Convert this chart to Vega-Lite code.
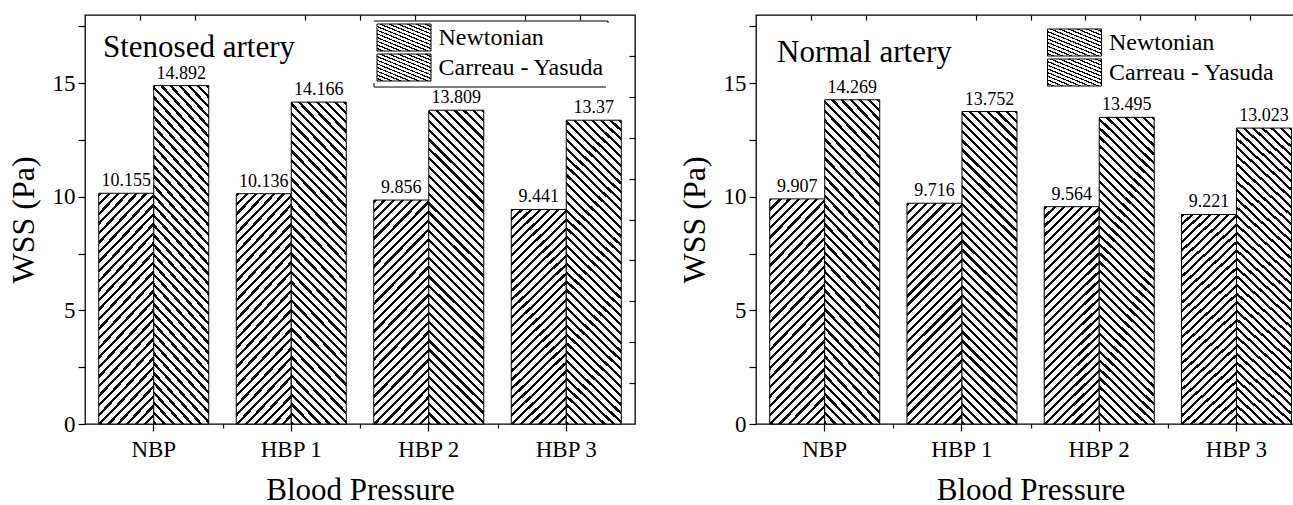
{
  "$schema": "https://vega.github.io/schema/vega-lite/v6.json",
  "padding": {"left": 6, "top": 13, "right": -12, "bottom": 0},
  "background": "white",
  "params": [
    {"name": "hs", "value": [
      {"offset":0,"color":"#000"},{"offset":0.007,"color":"#000"},{"offset":0.007,"color":"#fff"},{"offset":0.02,"color":"#fff"},
      {"offset":0.02,"color":"#000"},{"offset":0.027,"color":"#000"},{"offset":0.027,"color":"#fff"},{"offset":0.04,"color":"#fff"},
      {"offset":0.04,"color":"#000"},{"offset":0.047,"color":"#000"},{"offset":0.047,"color":"#fff"},{"offset":0.06,"color":"#fff"},
      {"offset":0.06,"color":"#000"},{"offset":0.067,"color":"#000"},{"offset":0.067,"color":"#fff"},{"offset":0.08,"color":"#fff"},
      {"offset":0.08,"color":"#000"},{"offset":0.087,"color":"#000"},{"offset":0.087,"color":"#fff"},{"offset":0.1,"color":"#fff"},
      {"offset":0.1,"color":"#000"},{"offset":0.107,"color":"#000"},{"offset":0.107,"color":"#fff"},{"offset":0.12,"color":"#fff"},
      {"offset":0.12,"color":"#000"},{"offset":0.127,"color":"#000"},{"offset":0.127,"color":"#fff"},{"offset":0.14,"color":"#fff"},
      {"offset":0.14,"color":"#000"},{"offset":0.147,"color":"#000"},{"offset":0.147,"color":"#fff"},{"offset":0.16,"color":"#fff"},
      {"offset":0.16,"color":"#000"},{"offset":0.167,"color":"#000"},{"offset":0.167,"color":"#fff"},{"offset":0.18,"color":"#fff"},
      {"offset":0.18,"color":"#000"},{"offset":0.187,"color":"#000"},{"offset":0.187,"color":"#fff"},{"offset":0.2,"color":"#fff"},
      {"offset":0.2,"color":"#000"},{"offset":0.207,"color":"#000"},{"offset":0.207,"color":"#fff"},{"offset":0.22,"color":"#fff"},
      {"offset":0.22,"color":"#000"},{"offset":0.227,"color":"#000"},{"offset":0.227,"color":"#fff"},{"offset":0.24,"color":"#fff"},
      {"offset":0.24,"color":"#000"},{"offset":0.247,"color":"#000"},{"offset":0.247,"color":"#fff"},{"offset":0.26,"color":"#fff"},
      {"offset":0.26,"color":"#000"},{"offset":0.267,"color":"#000"},{"offset":0.267,"color":"#fff"},{"offset":0.28,"color":"#fff"},
      {"offset":0.28,"color":"#000"},{"offset":0.287,"color":"#000"},{"offset":0.287,"color":"#fff"},{"offset":0.3,"color":"#fff"},
      {"offset":0.3,"color":"#000"},{"offset":0.307,"color":"#000"},{"offset":0.307,"color":"#fff"},{"offset":0.32,"color":"#fff"},
      {"offset":0.32,"color":"#000"},{"offset":0.327,"color":"#000"},{"offset":0.327,"color":"#fff"},{"offset":0.34,"color":"#fff"},
      {"offset":0.34,"color":"#000"},{"offset":0.347,"color":"#000"},{"offset":0.347,"color":"#fff"},{"offset":0.36,"color":"#fff"},
      {"offset":0.36,"color":"#000"},{"offset":0.367,"color":"#000"},{"offset":0.367,"color":"#fff"},{"offset":0.38,"color":"#fff"},
      {"offset":0.38,"color":"#000"},{"offset":0.387,"color":"#000"},{"offset":0.387,"color":"#fff"},{"offset":0.4,"color":"#fff"},
      {"offset":0.4,"color":"#000"},{"offset":0.407,"color":"#000"},{"offset":0.407,"color":"#fff"},{"offset":0.42,"color":"#fff"},
      {"offset":0.42,"color":"#000"},{"offset":0.427,"color":"#000"},{"offset":0.427,"color":"#fff"},{"offset":0.44,"color":"#fff"},
      {"offset":0.44,"color":"#000"},{"offset":0.447,"color":"#000"},{"offset":0.447,"color":"#fff"},{"offset":0.46,"color":"#fff"},
      {"offset":0.46,"color":"#000"},{"offset":0.467,"color":"#000"},{"offset":0.467,"color":"#fff"},{"offset":0.48,"color":"#fff"},
      {"offset":0.48,"color":"#000"},{"offset":0.487,"color":"#000"},{"offset":0.487,"color":"#fff"},{"offset":0.5,"color":"#fff"},
      {"offset":0.5,"color":"#000"},{"offset":0.507,"color":"#000"},{"offset":0.507,"color":"#fff"},{"offset":0.52,"color":"#fff"},
      {"offset":0.52,"color":"#000"},{"offset":0.527,"color":"#000"},{"offset":0.527,"color":"#fff"},{"offset":0.54,"color":"#fff"},
      {"offset":0.54,"color":"#000"},{"offset":0.547,"color":"#000"},{"offset":0.547,"color":"#fff"},{"offset":0.56,"color":"#fff"},
      {"offset":0.56,"color":"#000"},{"offset":0.567,"color":"#000"},{"offset":0.567,"color":"#fff"},{"offset":0.58,"color":"#fff"},
      {"offset":0.58,"color":"#000"},{"offset":0.587,"color":"#000"},{"offset":0.587,"color":"#fff"},{"offset":0.6,"color":"#fff"},
      {"offset":0.6,"color":"#000"},{"offset":0.607,"color":"#000"},{"offset":0.607,"color":"#fff"},{"offset":0.62,"color":"#fff"},
      {"offset":0.62,"color":"#000"},{"offset":0.627,"color":"#000"},{"offset":0.627,"color":"#fff"},{"offset":0.64,"color":"#fff"},
      {"offset":0.64,"color":"#000"},{"offset":0.647,"color":"#000"},{"offset":0.647,"color":"#fff"},{"offset":0.66,"color":"#fff"},
      {"offset":0.66,"color":"#000"},{"offset":0.667,"color":"#000"},{"offset":0.667,"color":"#fff"},{"offset":0.68,"color":"#fff"},
      {"offset":0.68,"color":"#000"},{"offset":0.687,"color":"#000"},{"offset":0.687,"color":"#fff"},{"offset":0.7,"color":"#fff"},
      {"offset":0.7,"color":"#000"},{"offset":0.707,"color":"#000"},{"offset":0.707,"color":"#fff"},{"offset":0.72,"color":"#fff"},
      {"offset":0.72,"color":"#000"},{"offset":0.727,"color":"#000"},{"offset":0.727,"color":"#fff"},{"offset":0.74,"color":"#fff"},
      {"offset":0.74,"color":"#000"},{"offset":0.747,"color":"#000"},{"offset":0.747,"color":"#fff"},{"offset":0.76,"color":"#fff"},
      {"offset":0.76,"color":"#000"},{"offset":0.767,"color":"#000"},{"offset":0.767,"color":"#fff"},{"offset":0.78,"color":"#fff"},
      {"offset":0.78,"color":"#000"},{"offset":0.787,"color":"#000"},{"offset":0.787,"color":"#fff"},{"offset":0.8,"color":"#fff"},
      {"offset":0.8,"color":"#000"},{"offset":0.807,"color":"#000"},{"offset":0.807,"color":"#fff"},{"offset":0.82,"color":"#fff"},
      {"offset":0.82,"color":"#000"},{"offset":0.827,"color":"#000"},{"offset":0.827,"color":"#fff"},{"offset":0.84,"color":"#fff"},
      {"offset":0.84,"color":"#000"},{"offset":0.847,"color":"#000"},{"offset":0.847,"color":"#fff"},{"offset":0.86,"color":"#fff"},
      {"offset":0.86,"color":"#000"},{"offset":0.867,"color":"#000"},{"offset":0.867,"color":"#fff"},{"offset":0.88,"color":"#fff"},
      {"offset":0.88,"color":"#000"},{"offset":0.887,"color":"#000"},{"offset":0.887,"color":"#fff"},{"offset":0.9,"color":"#fff"},
      {"offset":0.9,"color":"#000"},{"offset":0.907,"color":"#000"},{"offset":0.907,"color":"#fff"},{"offset":0.92,"color":"#fff"},
      {"offset":0.92,"color":"#000"},{"offset":0.927,"color":"#000"},{"offset":0.927,"color":"#fff"},{"offset":0.94,"color":"#fff"},
      {"offset":0.94,"color":"#000"},{"offset":0.947,"color":"#000"},{"offset":0.947,"color":"#fff"},{"offset":0.96,"color":"#fff"},
      {"offset":0.96,"color":"#000"},{"offset":0.967,"color":"#000"},{"offset":0.967,"color":"#fff"},{"offset":0.98,"color":"#fff"},
      {"offset":0.98,"color":"#000"},{"offset":0.987,"color":"#000"},{"offset":0.987,"color":"#fff"},{"offset":1,"color":"#fff"}
    ]}
  ],
  "data": {"values": [
    {"artery": "Stenosed", "pressure": "NBP", "model": "Newtonian", "wss": 10.155},
    {"artery": "Stenosed", "pressure": "NBP", "model": "Carreau - Yasuda", "wss": 14.892},
    {"artery": "Stenosed", "pressure": "HBP 1", "model": "Newtonian", "wss": 10.136},
    {"artery": "Stenosed", "pressure": "HBP 1", "model": "Carreau - Yasuda", "wss": 14.166},
    {"artery": "Stenosed", "pressure": "HBP 2", "model": "Newtonian", "wss": 9.856},
    {"artery": "Stenosed", "pressure": "HBP 2", "model": "Carreau - Yasuda", "wss": 13.809},
    {"artery": "Stenosed", "pressure": "HBP 3", "model": "Newtonian", "wss": 9.441},
    {"artery": "Stenosed", "pressure": "HBP 3", "model": "Carreau - Yasuda", "wss": 13.37},
    {"artery": "Normal", "pressure": "NBP", "model": "Newtonian", "wss": 9.907},
    {"artery": "Normal", "pressure": "NBP", "model": "Carreau - Yasuda", "wss": 14.269},
    {"artery": "Normal", "pressure": "HBP 1", "model": "Newtonian", "wss": 9.716},
    {"artery": "Normal", "pressure": "HBP 1", "model": "Carreau - Yasuda", "wss": 13.752},
    {"artery": "Normal", "pressure": "HBP 2", "model": "Newtonian", "wss": 9.564},
    {"artery": "Normal", "pressure": "HBP 2", "model": "Carreau - Yasuda", "wss": 13.495},
    {"artery": "Normal", "pressure": "HBP 3", "model": "Newtonian", "wss": 9.221},
    {"artery": "Normal", "pressure": "HBP 3", "model": "Carreau - Yasuda", "wss": 13.023}
  ]},
  "spacing": 40,
  "hconcat": [
    {
      "width": 550,
      "height": 409,
      "transform": [{"filter": "datum.artery === 'Stenosed'"}],
      "title": {"text": "Stenosed artery", "anchor": "start", "frame": "group", "offset": 0, "dx": 18, "dy": 74, "baseline": "alphabetic", "fontSize": 31, "fontWeight": "normal", "font": "Liberation Serif", "color": "#000"},
      "layer": [
        {
          "encoding": {
            "x": {"field": "pressure", "type": "nominal", "sort": null,
              "scale": {"type": "band", "domain": ["NBP", "HBP 1", "HBP 2", "HBP 3"], "paddingInner": 0.2, "paddingOuter": 0.1},
              "axis": {"orient": "bottom", "title": "Blood Pressure", "labelAngle": 0, "labelFont": "Liberation Serif", "titleFont": "Liberation Serif", "labelFontSize": 23, "labelPadding": 7, "tickSize": 7, "titleFontSize": 31, "titlePadding": 14, "domain": false, "zindex": 1,
                "encode": {"ticks": {"y": {"value": -4}}}}},
            "xOffset": {"field": "model", "type": "nominal", "sort": null, "scale": {"domain": ["Newtonian", "Carreau - Yasuda"]}},
            "y": {"field": "wss", "type": "quantitative", "stack": null,
              "scale": {"domain": [0, 18], "nice": false, "zero": true},
              "axis": {"orient": "left", "title": "WSS (Pa)", "values": [0, 2.5, 5, 7.5, 10, 12.5, 15, 17.5], "labelExpr": "datum.value % 5 === 0 ? datum.label : ''", "labelFont": "Liberation Serif", "titleFont": "Liberation Serif", "labelFontSize": 23, "labelPadding": 3, "tickSize": 7, "titleFontSize": 32, "titlePadding": 12, "domain": false, "grid": false, "labelOverlap": false, "zindex": 1,
                "encode": {"ticks": {"x2": {"value": {"expr": "datum.value % 5 === 0 ? -7 : 5"}}}}}}
          },
          "layer": [
            {
              "mark": {"type": "bar", "strokeWidth": 1,
                "fill": {"expr": "datum.model === 'Newtonian' ? {gradient: 'linear', x1: 0, y1: 0, x2: 0.4862, y2: 1.9537, stops: hs} : {gradient: 'linear', x1: 0, y1: 1, x2: 0.2466, y2: -0.4125, stops: hs}"}},
              "encoding": {
                "stroke": {"field": "model", "type": "nominal",
                  "scale": {"domain": ["Newtonian", "Carreau - Yasuda"], "range": ["#000", "#000"]},
                  "legend": {"orient": "none", "legendX": 288.5, "legendY": 5.5, "title": null,
                    "symbolType": "M-1,-1H3V1H-1Z", "symbolSize": 729, "symbolStrokeWidth": 1, "symbolStrokeColor": "#000",
                    "labelFont": "Liberation Serif", "labelFontSize": 24, "labelColor": "#000", "labelOffset": 34, "labelLimit": 400,
                    "rowPadding": -2, "padding": 3, "strokeColor": "#000",
                    "encode": {
                      "symbols": {"fill": {"value": {"expr": "datum.value === 'Newtonian' ? {gradient: 'linear', x1: 0, y1: 0, x2: 5.238, y2: 2.619, stops: hs} : {gradient: 'linear', x1: 0, y1: 1, x2: 5.238, y2: -1.619, stops: hs}"}}, "fillOpacity": {"value": 1}, "opacity": {"value": 1}}
                    }}}
              }
            },
            {
              "mark": {"type": "text", "dy": -7, "baseline": "alphabetic", "fontSize": 18, "font": "Liberation Serif", "color": "#000"},
              "encoding": {"text": {"field": "wss", "type": "quantitative"}}
            }
          ]
        },
        {
          "mark": {"type": "point", "opacity": 0},
          "encoding": {
            "x": {"datum": 0, "type": "quantitative", "scale": {"domain": [0, 10], "nice": false},
              "axis": {"orient": "top", "values": [1, 2, 4, 5, 6, 8, 9], "labels": false, "tickSize": -5, "title": null, "domain": false, "grid": false, "minExtent": 0, "maxExtent": 0}},
            "y": {"datum": 0, "type": "quantitative", "scale": {"domain": [0, 10], "nice": false},
              "axis": {"orient": "right", "values": [1, 2, 3, 4, 5, 6, 7, 8, 9], "labels": false, "tickSize": -6, "title": null, "domain": false, "grid": false, "minExtent": 0, "maxExtent": 0}}
          }
        },
        {
          "mark": {"type": "point", "opacity": 0},
          "encoding": {
            "x": {"datum": 0, "type": "quantitative", "scale": {"domain": [0, 4], "nice": false},
              "axis": {"orient": "bottom", "values": [1, 2, 3], "labels": false, "tickSize": 4, "title": null, "domain": false, "grid": false, "minExtent": 0, "maxExtent": 0}}
          }
        }
      ],
      "resolve": {"scale": {"x": "independent", "y": "independent"}, "axis": {"x": "independent", "y": "independent"}}
    },
    {
      "width": 549,
      "height": 409,
      "transform": [{"filter": "datum.artery === 'Normal'"}],
      "title": {"text": "Normal artery", "anchor": "start", "frame": "group", "offset": 0, "dx": 21, "dy": 79, "baseline": "alphabetic", "fontSize": 31, "fontWeight": "normal", "font": "Liberation Serif", "color": "#000"},
      "layer": [
        {
          "encoding": {
            "x": {"field": "pressure", "type": "nominal", "sort": null,
              "scale": {"type": "band", "domain": ["NBP", "HBP 1", "HBP 2", "HBP 3"], "paddingInner": 0.2, "paddingOuter": 0.1},
              "axis": {"orient": "bottom", "title": "Blood Pressure", "labelAngle": 0, "labelFont": "Liberation Serif", "titleFont": "Liberation Serif", "labelFontSize": 23, "labelPadding": 7, "tickSize": 7, "titleFontSize": 31, "titlePadding": 14, "domain": false, "zindex": 1,
                "encode": {"ticks": {"y": {"value": -4}}}}},
            "xOffset": {"field": "model", "type": "nominal", "sort": null, "scale": {"domain": ["Newtonian", "Carreau - Yasuda"]}},
            "y": {"field": "wss", "type": "quantitative", "stack": null,
              "scale": {"domain": [0, 18], "nice": false, "zero": true},
              "axis": {"orient": "left", "title": "WSS (Pa)", "values": [0, 2.5, 5, 7.5, 10, 12.5, 15, 17.5], "labelExpr": "datum.value % 5 === 0 ? datum.label : ''", "labelFont": "Liberation Serif", "titleFont": "Liberation Serif", "labelFontSize": 23, "labelPadding": 3, "tickSize": 7, "titleFontSize": 32, "titlePadding": 12, "domain": false, "grid": false, "labelOverlap": false, "zindex": 1,
                "encode": {"ticks": {"x2": {"value": {"expr": "datum.value % 5 === 0 ? -7 : 5"}}}}}}
          },
          "layer": [
            {
              "mark": {"type": "bar", "strokeWidth": 1,
                "fill": {"expr": "datum.model === 'Newtonian' ? {gradient: 'linear', x1: 0, y1: 0, x2: 0.4862, y2: 1.9537, stops: hs} : {gradient: 'linear', x1: 0, y1: 1, x2: 0.2466, y2: -0.4125, stops: hs}"}},
              "encoding": {
                "stroke": {"field": "model", "type": "nominal",
                  "scale": {"domain": ["Newtonian", "Carreau - Yasuda"], "range": ["#000", "#000"]},
                  "legend": {"orient": "none", "legendX": 288, "legendY": 10.5, "title": null,
                    "symbolType": "M-1,-1H3V1H-1Z", "symbolSize": 729, "symbolStrokeWidth": 1, "symbolStrokeColor": "#000",
                    "labelFont": "Liberation Serif", "labelFontSize": 24, "labelColor": "#000", "labelOffset": 34, "labelLimit": 400,
                    "rowPadding": -2, "padding": 3, "strokeColor": null,
                    "encode": {
                      "symbols": {"fill": {"value": {"expr": "datum.value === 'Newtonian' ? {gradient: 'linear', x1: 0, y1: 0, x2: 5.238, y2: 2.619, stops: hs} : {gradient: 'linear', x1: 0, y1: 1, x2: 5.238, y2: -1.619, stops: hs}"}}, "fillOpacity": {"value": 1}, "opacity": {"value": 1}}
                    }}}
              }
            },
            {
              "mark": {"type": "text", "dy": -7, "baseline": "alphabetic", "fontSize": 18, "font": "Liberation Serif", "color": "#000"},
              "encoding": {"text": {"field": "wss", "type": "quantitative"}}
            }
          ]
        },
        {
          "mark": {"type": "point", "opacity": 0},
          "encoding": {
            "x": {"datum": 0, "type": "quantitative", "scale": {"domain": [0, 10], "nice": false},
              "axis": {"orient": "top", "values": [1, 2, 4, 5, 6, 7, 8, 9], "labels": false, "tickSize": -5, "title": null, "domain": false, "grid": false, "minExtent": 0, "maxExtent": 0}},
            "y": {"datum": 0, "type": "quantitative", "scale": {"domain": [0, 10], "nice": false},
              "axis": {"orient": "right", "values": [1, 2, 3, 4, 5, 6, 7, 8, 9], "labels": false, "tickSize": -6, "title": null, "domain": false, "grid": false, "minExtent": 0, "maxExtent": 0}}
          }
        },
        {
          "mark": {"type": "point", "opacity": 0},
          "encoding": {
            "x": {"datum": 0, "type": "quantitative", "scale": {"domain": [0, 4], "nice": false},
              "axis": {"orient": "bottom", "values": [1, 2, 3], "labels": false, "tickSize": 4, "title": null, "domain": false, "grid": false, "minExtent": 0, "maxExtent": 0}}
          }
        }
      ],
      "resolve": {"scale": {"x": "independent", "y": "independent"}, "axis": {"x": "independent", "y": "independent"}}
    }
  ],
  "resolve": {"scale": {"x": "independent", "y": "independent", "stroke": "independent"}, "legend": {"stroke": "independent"}},
  "config": {
    "font": "Liberation Serif",
    "view": {"stroke": "#000", "strokeWidth": 1.3},
    "style": {"guide-label": {"font": "Liberation Serif"}, "guide-title": {"font": "Liberation Serif"}},
    "legend": {"labelFont": "Liberation Serif", "titleFont": "Liberation Serif", "strokeDash": [236, 66, 236, 66]},
    "axis": {"labelFont": "Liberation Serif", "titleFont": "Liberation Serif", "labelColor": "#000", "titleColor": "#000", "tickColor": "#000", "tickWidth": 1.2, "titleFontWeight": "normal", "grid": false, "domain": false}
  }
}
